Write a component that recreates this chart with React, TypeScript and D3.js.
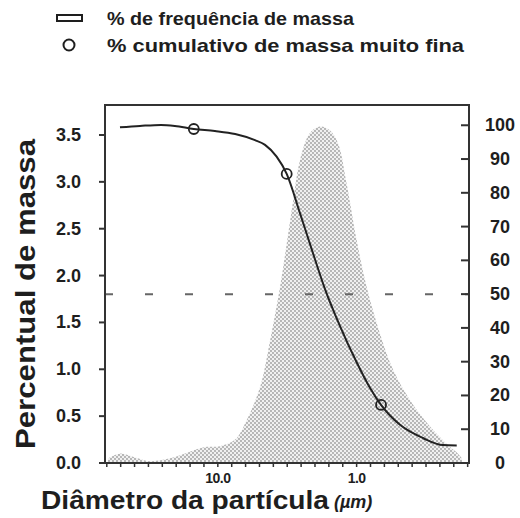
import React from "react";
import * as d3 from "d3";

// Particle-size distribution: mass frequency (left axis) and cumulative fine mass (right axis)

const FONT = "'Liberation Sans', Arial, Helvetica, sans-serif";
const INK = "#1e1e1e";

// Frequency distribution (% of mass) by particle diameter (µm)
const freqDiam = [61.8, 50.7, 39.5, 30.8, 22.1, 15.9, 12.4, 9.65, 7.5, 6.19, 4.96, 4.2, 3.56, 3.19, 2.86, 2.56, 2.17, 1.84, 1.56, 1.36, 1.18, 1.0, 0.847, 0.679, 0.544, 0.412, 0.296, 0.212, 0.186, 0.174];
const freqPct = [0.05, 0.1, 0.06, 0.02, 0.05, 0.12, 0.17, 0.18, 0.25, 0.46, 0.81, 1.31, 1.88, 2.34, 2.81, 3.23, 3.52, 3.59, 3.55, 3.41, 2.98, 2.38, 1.88, 1.38, 0.99, 0.67, 0.39, 0.17, 0.1, 0.05];

// Cumulative % of very fine mass by particle diameter (µm)
const cumDiam = [50.7, 36.4, 25.7, 20.4, 14.9, 10.5, 7.5, 5.4, 4.57, 3.77, 3.19, 2.56, 2.1, 1.69, 1.32, 0.994, 0.8, 0.667, 0.487, 0.333, 0.239, 0.19];
const cumPct = [99.4, 99.8, 100.1, 99.8, 98.9, 98.3, 97.4, 95.6, 94.2, 90.7, 85.6, 74.0, 63.1, 51.5, 40.6, 29.6, 22.2, 17.2, 11.3, 7.4, 5.3, 5.2];

// Measured points marked with circles
const markerDiam = [14.9, 3.19, 0.667];
const markerPct = [98.9, 85.6, 17.2];

const leftTicks = [0, 0.5, 1.0, 1.5, 2.0, 2.5, 3.0, 3.5];
const rightTicks = [0, 10, 20, 30, 40, 50, 60, 70, 80, 90, 100];
const xLabelValues = [10, 1];
const xLabelText = ["10.0", "1.0"];
const medianPct = 50;

const legendLabels = ["% de frequência de massa", "% cumulativo de massa muito fina"];
const yTitle = "Percentual de massa";
const xTitle = "Diâmetro  da  partícula";
const xUnit = "(µm)";

export default function App() {
  const left = 105, right = 469, top = 105, bottom = 463;

  const x = d3.scaleLog().domain([65, 0.155]).range([left, right]);
  const yL = d3.scaleLinear().domain([0, 3.82]).range([bottom, top]);
  const yR = d3.scaleLinear().domain([0, 106]).range([bottom, top]);

  const minorTicks = d3.range(-8, 19).map((k) => Math.pow(10, k / 10));

  const area = d3
    .area<number>()
    .x((_, i) => x(freqDiam[i]))
    .y0(yL(0))
    .y1((d) => yL(d))
    .curve(d3.curveCatmullRom.alpha(0.5));

  const line = d3
    .line<number>()
    .x((_, i) => x(cumDiam[i]))
    .y((d) => yR(d))
    .curve(d3.curveMonotoneX);

  return (
    <svg
      width={520}
      height={518}
      style={{ position: "absolute", left: 0, top: 0, background: "#fff" }}
      fontFamily={FONT}
      fontWeight="bold"
    >
      <defs>
        <pattern id="stipple" patternUnits="userSpaceOnUse" width={4} height={4}>
          <rect width={4} height={4} fill="#f1f1f1" />
          <circle cx={1} cy={1} r={0.9} fill="#9c9c9c" />
          <circle cx={3} cy={3} r={0.9} fill="#9c9c9c" />
        </pattern>
      </defs>

      {/* legend */}
      <rect x={57} y={15} width={25} height={6} fill="#fff" stroke={INK} strokeWidth={2} />
      <text x={107} y={25} fontSize={19} fill={INK} textLength={247} lengthAdjust="spacingAndGlyphs">
        {legendLabels[0]}
      </text>
      <circle cx={69} cy={45} r={5.5} fill="none" stroke={INK} strokeWidth={2} />
      <text x={107} y={52} fontSize={19} fill={INK} textLength={357} lengthAdjust="spacingAndGlyphs">
        {legendLabels[1]}
      </text>

      {/* frequency distribution */}
      <path d={area(freqPct) ?? ""} fill="url(#stipple)" />

      {/* 50 % reference */}
      <line
        x1={left}
        x2={right}
        y1={yR(medianPct)}
        y2={yR(medianPct)}
        stroke="#666"
        strokeWidth={2}
        strokeDasharray="8,32"
      />

      {/* cumulative curve */}
      <path d={line(cumPct) ?? ""} fill="none" stroke="#222" strokeWidth={2} />
      {markerPct.map((v, i) => (
        <circle key={i} cx={x(markerDiam[i])} cy={yR(v)} r={5} fill="none" stroke="#222" strokeWidth={1.8} />
      ))}

      {/* frame */}
      <rect x={left} y={top} width={right - left} height={bottom - top} fill="none" stroke="#333" strokeWidth={2} />

      {/* left axis */}
      {leftTicks.map((t) => (
        <g key={t}>
          <line x1={left - 6} x2={left} y1={yL(t)} y2={yL(t)} stroke="#333" strokeWidth={2} />
          <text x={81} y={yL(t) + 6} fontSize={18} textAnchor="end" fill={INK}>
            {t.toFixed(1)}
          </text>
        </g>
      ))}

      {/* right axis */}
      {rightTicks.map((t) => (
        <g key={t}>
          <line x1={right - 8} x2={right} y1={yR(t)} y2={yR(t)} stroke="#333" strokeWidth={2} />
          <text x={500} y={yR(t) + 6} fontSize={18} textAnchor="middle" fill={INK}>
            {t}
          </text>
        </g>
      ))}

      {/* bottom axis */}
      {minorTicks.map((t, i) => (
        <line key={i} x1={x(t)} x2={x(t)} y1={bottom} y2={bottom + 4} stroke="#333" strokeWidth={1.5} />
      ))}
      {xLabelValues.map((v, i) => (
        <text key={v} x={x(v)} y={483} fontSize={14} textAnchor="middle" fill={INK} letterSpacing={-0.5}>
          {xLabelText[i]}
        </text>
      ))}

      {/* axis titles */}
      <text
        transform={`translate(35, 294) rotate(-90)`}
        fontSize={27}
        textAnchor="middle"
        fill={INK}
        textLength={310}
        lengthAdjust="spacingAndGlyphs"
      >
        {yTitle}
      </text>
      <text x={41} y={509} fontSize={26} fill={INK} textLength={288} lengthAdjust="spacingAndGlyphs">
        {xTitle}
      </text>
      <text x={334} y={508} fontSize={18} fontStyle="italic" fill={INK}>
        {xUnit}
      </text>
    </svg>
  );
}
